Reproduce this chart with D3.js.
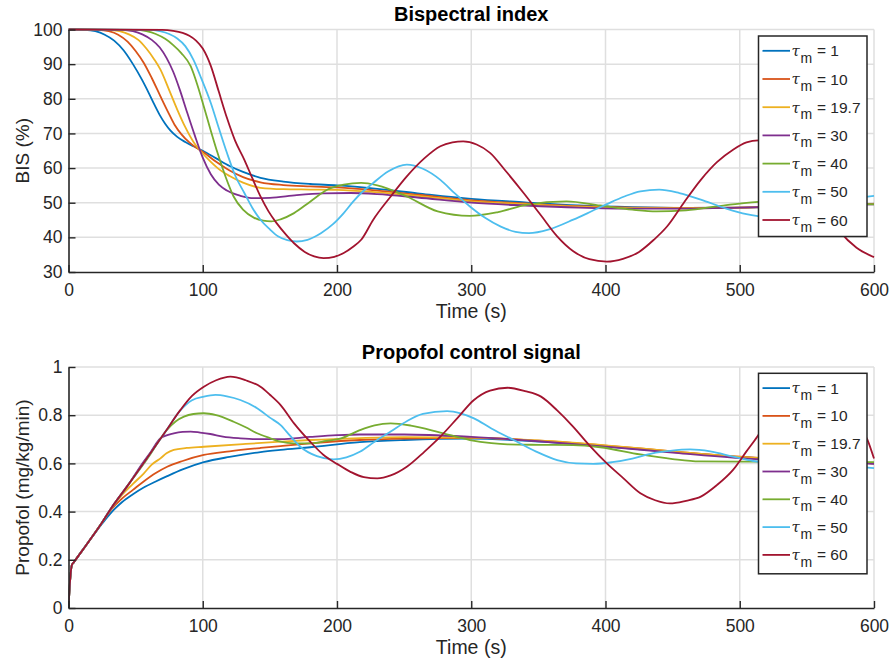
<!DOCTYPE html>
<html>
<head>
<meta charset="utf-8">
<script src="https://cdn.jsdelivr.net/npm/d3@7"></script>
<style>
  html, body { margin: 0; padding: 0; background: #fff; }
  svg { display: block; font-family: "Liberation Sans", Arial, Helvetica, sans-serif; }
</style>
</head>
<body>
<svg id="chart" width="893" height="661"></svg>
<script>
// valores del parámetro tau_m y colores de cada serie
const tauLabels = ['1', '10', '19.7', '30', '40', '50', '60'];
const seriesColors = ['#0072BD', '#D95319', '#EDB120', '#7E2F8E', '#77AC30', '#4DBEEE', '#A2142F'];

const timeTicks = [0, 100, 200, 300, 400, 500, 600];
const bisTicks = [30, 40, 50, 60, 70, 80, 90, 100];
const propofolTicks = [0, 0.2, 0.4, 0.6, 0.8, 1];

// BIS (%): [tiempo (s), valor]
const bisTau1 = [[0,100],[12,99.9],[20,99.5],[27,98.5],[34,96.8],[41,94],[48,90],[55,85.3],[60,81.5],[64,78.3],[68,75.3],[72,72.8],[76,70.8],[81,69],[87,67.5],[93,66.3],[100,65],[110,62.8],[120,60.6],[130,58.9],[143,57.2],[160,56.1],[180,55.4],[200,55],[230,54],[260,52.7],[300,51.1],[340,50.1],[380,49.2],[420,48.7],[460,48.5],[500,48.6],[550,49.1],[600,49.7]];
const bisTau10 = [[0,100],[22,99.9],[30,99.5],[37,98.5],[44,96.5],[50,93.8],[56,90.4],[62,86],[68.5,80.7],[74,76.3],[79,72.5],[84,69.8],[90,67.4],[95,65.9],[100,64.7],[110,61.8],[120,59.3],[130,57.4],[143,55.9],[160,55.1],[180,54.7],[200,54.4],[230,53.5],[260,52.3],[300,50.7],[340,49.8],[380,49],[420,48.6],[460,48.5],[500,48.6],[550,49.1],[600,49.7]];
const bisTau19 = [[0,100],[30,99.9],[38,99.5],[45,98.6],[52,97],[58,94.5],[64,91.3],[68.5,88.4],[75,82.5],[81,76.9],[87,71.8],[93,67.6],[100,64.2],[106,61.8],[113,59.4],[120,57.7],[130,55.8],[143,54.3],[160,53.9],[180,53.8],[200,53.7],[230,53],[260,52],[300,50.4],[340,49.6],[380,48.9],[420,48.5],[460,48.4],[500,48.6],[550,49.1],[600,49.7]];
const bisTau30 = [[0,100],[40,99.9],[48,99.5],[55,98.6],[62,97],[68,94.8],[73,91.8],[78,87.8],[83,82.5],[88,76.5],[94,69.5],[100,63],[106,58.2],[112,55.2],[118,53.5],[128,52],[138,51.3],[150,51.4],[170,52.2],[190,52.7],[210,52.8],[230,52.5],[260,51.5],[300,50],[340,49.2],[380,48.6],[420,48.3],[460,48.3],[500,48.6],[550,49.1],[600,49.5]];
const bisTau40 = [[0,100],[50,99.9],[58,99.5],[65,98.7],[72,97.3],[78,95.5],[84,93.2],[91,89.4],[96,84],[101,77.5],[106,70.8],[111,64.4],[117,57.5],[123,51.8],[130,48],[138,45.7],[145,44.8],[151,44.6],[158,45.2],[168,47],[180,50.3],[193,53.8],[205,55.2],[218,55.7],[230,55],[252,51.8],[275,47.5],[299,46.2],[320,47.3],[341,49.4],[371,50.4],[396,49.2],[420,48],[438,47.5],[460,47.8],[490,49.3],[520,50.3],[560,50.1],[600,49.5]];
const bisTau50 = [[0,100],[60,99.9],[68,99.5],[75,98.7],[81,97.4],[87,95.2],[93,91.3],[99,85.8],[106,78.8],[112,71.5],[118,64.4],[124,58],[131,52.8],[137,48.5],[143,45.1],[150,42.3],[156,40.3],[163,39.2],[170,38.8],[178,39.3],[188,41.2],[197,43.8],[205,47],[212,50.3],[218,52.8],[227,55.7],[238,59],[252,61],[264,59.8],[277,56.6],[288,52.6],[299,48.9],[310,45.7],[322,43.1],[333,41.6],[343,41.2],[358,42.3],[376,45.1],[390,47.6],[401,49.6],[414,51.8],[426,53.3],[440,53.8],[455,52.8],[471,50.9],[490,48.3],[505,46.7],[520,45.9],[535,46.2],[550,47.5],[570,49.7],[585,51.1],[600,52]];
const bisTau60 = [[0,100],[70,99.9],[78,99.6],[85,99],[90,98.2],[95,96.8],[100,94.5],[106,89.5],[112,82],[118,74.5],[124,68],[131,62.4],[137,57],[143,51.8],[149,47.5],[155,44.1],[162,40.8],[168,38.3],[176,35.8],[183,34.5],[190,34],[198,34.4],[205,35.5],[212,37.3],[218,39.3],[227,45.1],[240,51.8],[252,57.6],[265,62.8],[277,66.3],[286,67.4],[294,67.7],[304,66.8],[314,64.4],[326,59],[339,52.8],[352,46.3],[364,40.3],[376,36],[388,33.7],[401,33],[413,33.8],[425,35.8],[436,39.3],[446,43.2],[458,49.8],[471,56.6],[483,61.7],[495,65.3],[505,67.4],[514,68],[524,67.2],[537,63.5],[550,57],[562,49.5],[575,41.5],[587,37],[600,34.3]];

// Propofol (mg/kg/min): [tiempo (s), valor]
const propTau1 = [[0,0],[1,0.1],[2.5,0.178],[4,0.19],[15,0.275],[25,0.35],[31.3,0.393],[40,0.44],[48,0.472],[56,0.5],[65,0.525],[73.5,0.547],[85,0.575],[100.8,0.605],[120,0.627],[143,0.647],[158,0.656],[180,0.667],[217,0.688],[250,0.697],[299,0.703],[351,0.69],[396,0.672],[426,0.658],[460,0.643],[495,0.628],[550,0.613],[600,0.6]];
const propTau10 = [[0,0],[1,0.1],[2.5,0.178],[4,0.19],[15,0.275],[25,0.355],[31.3,0.405],[40,0.455],[48,0.49],[56,0.525],[65,0.56],[73.5,0.586],[85,0.61],[100.8,0.635],[120,0.65],[143,0.664],[158,0.672],[180,0.683],[217,0.697],[250,0.703],[300,0.706],[350,0.694],[400,0.674],[450,0.65],[500,0.628],[550,0.612],[600,0.6]];
const propTau19 = [[0,0],[1,0.1],[2.5,0.178],[4,0.19],[15,0.275],[25,0.355],[31.3,0.408],[40,0.47],[48,0.515],[56,0.558],[62,0.595],[68.5,0.621],[73,0.642],[78.4,0.656],[88,0.664],[100.8,0.669],[130,0.68],[158,0.69],[180,0.697],[217,0.705],[250,0.709],[300,0.707],[350,0.695],[400,0.675],[450,0.65],[500,0.627],[550,0.612],[600,0.6]];
const propTau30 = [[0,0],[1,0.1],[2.5,0.178],[4,0.19],[15,0.275],[25,0.355],[31.3,0.41],[45,0.515],[55,0.6],[61,0.645],[68.5,0.704],[78.4,0.725],[85,0.731],[91,0.732],[98,0.728],[105.7,0.722],[115,0.711],[128,0.704],[140,0.701],[158,0.701],[180,0.71],[200,0.717],[217,0.72],[250,0.72],[300,0.71],[350,0.692],[400,0.67],[450,0.645],[500,0.622],[550,0.607],[600,0.598]];
const propTau40 = [[0,0],[1,0.1],[2.5,0.178],[4,0.19],[15,0.275],[25,0.355],[31.3,0.41],[45,0.515],[61,0.638],[67,0.69],[73.5,0.74],[80,0.775],[86,0.794],[93,0.805],[100.8,0.808],[110,0.8],[123,0.773],[132,0.75],[140.5,0.725],[150,0.705],[158,0.69],[168,0.683],[180,0.683],[192,0.693],[203,0.704],[217,0.738],[228,0.758],[240,0.766],[255,0.757],[277,0.728],[299,0.697],[315,0.684],[327,0.679],[350,0.677],[376,0.676],[396,0.667],[426,0.637],[450,0.618],[470,0.608],[500,0.607],[550,0.607],[600,0.605]];
const propTau50 = [[0,0],[1,0.1],[2.5,0.178],[4,0.19],[15,0.275],[25,0.355],[31.3,0.41],[45,0.515],[61,0.642],[72,0.73],[83,0.818],[92,0.862],[100.8,0.877],[109.5,0.884],[118,0.878],[128,0.863],[140.5,0.829],[150,0.79],[158,0.759],[165,0.715],[172.7,0.669],[185,0.63],[197.5,0.617],[207,0.625],[217,0.648],[228,0.69],[240,0.732],[252,0.775],[264,0.805],[282,0.817],[292,0.808],[302,0.787],[315,0.745],[331.6,0.697],[348,0.65],[364,0.614],[378,0.6],[391,0.598],[405,0.605],[420,0.62],[435,0.642],[448,0.652],[463,0.658],[478,0.65],[495,0.628],[510,0.61],[530,0.6],[555,0.6],[580,0.59],[600,0.58]];
const propTau60 = [[0,0],[1,0.1],[2.5,0.178],[4,0.19],[15,0.275],[25,0.355],[31.3,0.41],[45,0.515],[61,0.642],[72,0.73],[83.4,0.822],[92,0.88],[100.8,0.918],[110,0.945],[120.6,0.96],[132,0.945],[143,0.918],[150,0.885],[158,0.842],[168,0.766],[180,0.69],[190,0.635],[200,0.598],[210,0.565],[220,0.543],[230,0.538],[240,0.55],[252,0.586],[265,0.648],[277,0.711],[290,0.79],[302,0.863],[314,0.902],[327,0.914],[340,0.9],[352,0.877],[364,0.82],[376,0.752],[388,0.675],[401,0.6],[413,0.54],[426,0.476],[437,0.447],[448,0.434],[460,0.445],[471,0.462],[483,0.51],[495,0.573],[505,0.65],[513,0.711],[522,0.79],[532,0.86],[543,0.905],[555,0.9],[570,0.86],[585,0.77],[595,0.7],[600,0.62]];

const bisSeries = [bisTau1, bisTau10, bisTau19, bisTau30, bisTau40, bisTau50, bisTau60];
const propSeries = [propTau1, propTau10, propTau19, propTau30, propTau40, propTau50, propTau60];

const svg = d3.select('#chart');
const axisColor = '#262626';
const gridColor = '#dfdfdf';

const x = d3.scaleLinear().domain([0, 600]).range([68.5, 874]);

// dibuja un panel completo: rejilla, ejes, curvas, leyenda y textos
function dibujarPanel(cfg, idx) {
    const y = d3.scaleLinear().domain(cfg.domain).range([cfg.bottom, cfg.top]);
    const g = svg.append('g');

    // rejilla
    g.append('g').selectAll('line').data(timeTicks.filter(t => t > 0)).enter().append('line')
        .attr('x1', d => x(d)).attr('x2', d => x(d))
        .attr('y1', cfg.top).attr('y2', cfg.bottom)
        .attr('stroke', gridColor).attr('stroke-width', 1.5);
    g.append('g').selectAll('line').data(cfg.ticks.filter(t => t > cfg.domain[0])).enter().append('line')
        .attr('x1', x(0)).attr('x2', x(600))
        .attr('y1', d => y(d)).attr('y2', d => y(d))
        .attr('stroke', gridColor).attr('stroke-width', 1.5);

    // curvas
    const clipId = 'clip' + idx;
    svg.append('clipPath').attr('id', clipId).append('rect')
        .attr('x', x(0)).attr('y', cfg.top - 2).attr('width', x(600) - x(0) + 1).attr('height', cfg.bottom - cfg.top + 2);

    const line = d3.line().x(d => x(d[0])).y(d => y(d[1])).curve(d3.curveMonotoneX);
    g.append('g').attr('clip-path', `url(#${clipId})`).selectAll('path').data(cfg.series).enter().append('path')
        .attr('d', line)
        .attr('fill', 'none')
        .attr('stroke', (d, i) => seriesColors[i])
        .attr('stroke-width', 1.8)
        .attr('stroke-linejoin', 'round');

    // ejes (con marcas hacia adentro)
    const xAxis = d3.axisBottom(x).tickValues(timeTicks).tickSizeInner(-7).tickSizeOuter(0).tickPadding(12);
    const yAxis = d3.axisLeft(y).tickValues(cfg.ticks).tickSizeInner(-7).tickSizeOuter(0).tickPadding(6).tickFormat(d => String(d));

    const gx = g.append('g').attr('transform', `translate(0,${cfg.bottom})`).call(xAxis);
    const gy = g.append('g').attr('transform', `translate(${x(0)},0)`).call(yAxis);
    [gx, gy].forEach(ax => {
        ax.select('.domain').attr('stroke', axisColor).attr('stroke-width', 1.6);
        ax.selectAll('.tick line').attr('stroke', axisColor).attr('stroke-width', 1.4);
        ax.selectAll('.tick text').attr('fill', axisColor).attr('font-size', 17.5).attr('font-family', null);
    });
    gx.selectAll('.tick text').attr('dy', '0.71em');

    // título y etiquetas
    g.append('text').attr('x', (x(0) + x(600)) / 2).attr('y', cfg.top - 8.5)
        .attr('text-anchor', 'middle').attr('font-weight', 700).attr('font-size', 20).attr('fill', '#000')
        .text(cfg.title);
    g.append('text').attr('x', (x(0) + x(600)) / 2).attr('y', cfg.bottom + 46)
        .attr('text-anchor', 'middle').attr('font-size', 19.5).attr('fill', axisColor)
        .text('Time (s)');
    g.append('text').attr('transform', `translate(29,${(cfg.top + cfg.bottom) / 2}) rotate(-90)`)
        .attr('text-anchor', 'middle').attr('font-size', 19).attr('fill', axisColor)
        .text(cfg.ylabel);

    // leyenda
    const lg = g.append('g').attr('transform', `translate(758.5,${cfg.legendTop})`);
    lg.append('rect').attr('width', 108.5).attr('height', 200.5)
        .attr('fill', '#fff').attr('stroke', axisColor).attr('stroke-width', 1.5);
    const items = lg.selectAll('g.item').data(tauLabels).enter().append('g')
        .attr('transform', (d, i) => `translate(0,${14.8 + i * cfg.legendStep})`);
    items.append('line').attr('x1', 4).attr('x2', 31.5).attr('y1', 0).attr('y2', 0)
        .attr('stroke', (d, i) => seriesColors[i]).attr('stroke-width', 1.8);
    const txt = items.append('text').attr('fill', axisColor).attr('font-size', 15.5);
    txt.append('tspan').attr('x', 33).attr('y', 5.3)
        .attr('font-family', '"DejaVu Serif", serif').attr('font-style', 'italic').attr('font-size', 15)
        .text('τ');
    txt.append('tspan').attr('x', 42).attr('y', 12).attr('font-size', 14).text('m');
    txt.append('tspan').attr('x', 58.5).attr('y', 5.5).text(d => '= ' + d);
}

dibujarPanel({
    top: 29.5, bottom: 272, domain: [30, 100], ticks: bisTicks, series: bisSeries,
    title: 'Bispectral index', ylabel: 'BIS (%)', legendTop: 36, legendStep: 28.2
}, 0);

dibujarPanel({
    top: 367, bottom: 608, domain: [0, 1], ticks: propofolTicks, series: propSeries,
    title: 'Propofol control signal', ylabel: 'Propofol (mg/kg/min)', legendTop: 373.3, legendStep: 27.8
}, 1);
</script>
</body>
</html>
